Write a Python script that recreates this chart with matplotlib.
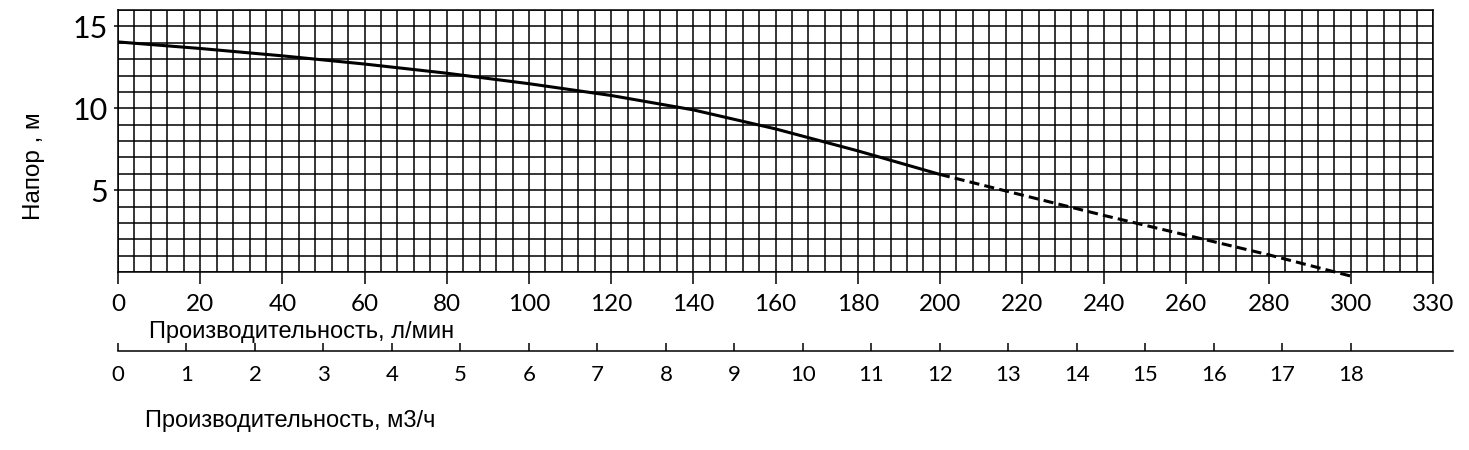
#!/usr/bin/env python3
# -*- coding: utf-8 -*-

import matplotlib
matplotlib.use("Agg")
import matplotlib.pyplot as plt
from matplotlib.ticker import MultipleLocator, FixedLocator
import numpy as np

# pump curve, flow in l/min, head in m
flow_solid = [0, 20, 40, 60, 80, 100, 120, 140, 160, 180, 200]
head_solid = [14.05, 13.65, 13.2, 12.7, 12.14, 11.5, 10.78, 9.9, 8.74, 7.4, 5.96]
flow_dashed = [200, 220, 240, 260, 280, 300]
head_dashed = [5.96, 4.7, 3.45, 2.25, 1.05, -0.25]

lmin_ticks = [0, 20, 40, 60, 80, 100, 120, 140, 160, 180, 200, 220, 240, 260, 280, 300, 320]
lmin_labels = ["0", "20", "40", "60", "80", "100", "120", "140", "160", "180", "200",
               "220", "240", "260", "280", "300", "330"]
head_ticks = [5, 10, 15]
m3h_ticks = list(range(0, 19))

W, H = 1469, 450
fig = plt.figure(figsize=(W / 100, H / 100), dpi=100)

left, right, top, bottom = 118, 1433, 10, 272
ax = fig.add_axes([left / W, 1 - bottom / H, (right - left) / W, (bottom - top) / H])
ax.set_xlim(0, 320)
ax.set_ylim(0, 16)

ax.xaxis.set_major_locator(FixedLocator(lmin_ticks))
ax.set_xticklabels(lmin_labels)
ax.xaxis.set_minor_locator(MultipleLocator(4))
ax.yaxis.set_major_locator(FixedLocator(head_ticks))
ax.yaxis.set_minor_locator(MultipleLocator(1))

ax.grid(which="both", color="black", linewidth=1.1)
ax.set_axisbelow(True)
for s in ax.spines.values():
    s.set_color("black")
    s.set_linewidth(1.1)

ax.tick_params(axis="x", which="major", direction="out", length=8.5, width=1.1,
               pad=7, labelsize=17.5)
ax.tick_params(axis="y", which="major", direction="out", length=3, width=1.1,
               pad=4, labelsize=22)
ax.tick_params(which="minor", length=0)
for lab in ax.get_xticklabels() + ax.get_yticklabels():
    lab.set_fontfamily("Lato")

ax.plot(flow_solid, head_solid, color="black", linewidth=2.2, solid_capstyle="butt",
        clip_on=False, zorder=3)
ax.plot(flow_dashed, head_dashed, color="black", linewidth=2.2,
        linestyle=(0, (3.3, 1.7)), clip_on=False, zorder=3)

# second scale in m3/h
end2 = 1453
ax2 = fig.add_axes([left / W, 1 - 351 / H, (end2 - left) / W, 0.001])
ax2.set_xlim(0, (end2 - left) / (right - left) * 320)
ax2.set_ylim(0, 1)
for name in ["top", "left", "right"]:
    ax2.spines[name].set_visible(False)
ax2.spines["bottom"].set_linewidth(1.1)
ax2.set_yticks([])
ax2.set_xticks(np.array(m3h_ticks) * 1000 / 60)
ax2.set_xticklabels([str(v) for v in m3h_ticks])
ax2.tick_params(axis="x", direction="in", length=6, width=1.1, pad=10, labelsize=16)
for lab in ax2.get_xticklabels():
    lab.set_fontfamily("Lato")
ax2.patch.set_alpha(0)

fig.text(302 / W, 1 - 332 / H, "Производительность, л/мин", ha="center", va="center",
         fontsize=17, family="Liberation Sans")
fig.text(290 / W, 1 - 421 / H, "Производительность, м3/ч", ha="center", va="center",
         fontsize=17, family="Liberation Sans")
fig.text(34 / W, 1 - 166 / H, "Напор , м", ha="center", va="center", rotation=90,
         fontsize=17.5, family="Liberation Sans")

fig.savefig("out.png", dpi=100)
plt.close(fig)
